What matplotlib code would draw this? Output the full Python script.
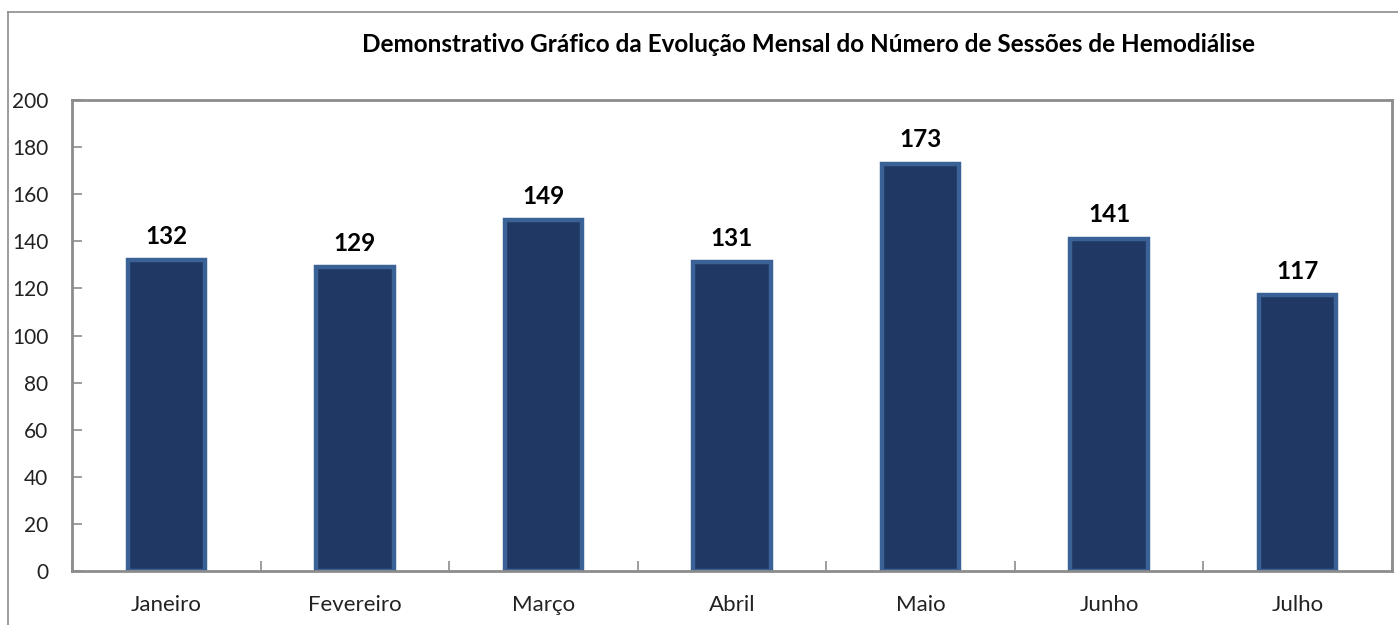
import matplotlib
matplotlib.use("Agg")
import matplotlib.pyplot as plt
from matplotlib.lines import Line2D
import numpy as np

plt.rcParams["font.family"] = ["Lato", "DejaVu Sans"]

MONTHS = ["Janeiro", "Fevereiro", "Março", "Abril", "Maio", "Junho", "Julho"]
SESSIONS = [132, 129, 149, 131, 173, 141, 117]
Y_TICKS = [0, 20, 40, 60, 80, 100, 120, 140, 160, 180, 200]
TITLE = "Demonstrativo Gráfico da Evolução Mensal do Número de Sessões de Hemodiálise"

W, H = 1398, 625
fig = plt.figure(figsize=(W / 100, H / 100), dpi=100)
fig.patch.set_facecolor("white")

# outer chart frame (left and top only visible)
fig.add_artist(Line2D([8 / W, 8 / W], [0, 1 - 12 / H], transform=fig.transFigure, color="#8c8c8c", lw=1.2))
fig.add_artist(Line2D([8 / W, 1], [1 - 12 / H, 1 - 12 / H], transform=fig.transFigure, color="#8c8c8c", lw=1.2))

ax = fig.add_axes([72 / W, (H - 571) / H, (1392 - 72) / W, (571 - 100) / H])
x = np.arange(len(MONTHS))
ax.bar(x, SESSIONS, width=0.41, color="#1f3864", edgecolor="#3a6296", linewidth=3.2, zorder=2)

for xi, v in zip(x, SESSIONS):
    ax.annotate(str(v), (xi, v), xytext=(0, 9), textcoords="offset points",
                ha="center", va="bottom", fontsize=17.5, fontweight="bold", color="black")

ax.set_xlim(-0.5, len(MONTHS) - 0.5)
ax.set_ylim(0, 200)
ax.set_yticks(Y_TICKS)
ax.set_yticklabels([str(t) for t in Y_TICKS], fontsize=15, color="#222222")
ax.set_xticks(x)
ax.set_xticklabels(MONTHS, fontsize=16, color="#222222")
ax.set_xticks(np.arange(len(MONTHS) + 1) - 0.5, minor=True)

ax.tick_params(axis="y", direction="in", length=7, width=1.2, color="#8c8c8c", pad=17)
ax.tick_params(axis="x", which="major", direction="in", length=6, width=1.2, color="#8c8c8c", pad=17)
ax.tick_params(axis="x", which="minor", direction="in", length=7, width=1.2, color="#8c8c8c")

for spine in ax.spines.values():
    spine.set_color("#8c8c8c")
    spine.set_linewidth(2)
    spine.set_zorder(3)

fig.text(808 / W, 1 - 45 / H, TITLE, ha="center", va="center", fontsize=17.5, fontweight="bold", color="black")

fig.savefig("out.png", dpi=100, facecolor=fig.get_facecolor())
